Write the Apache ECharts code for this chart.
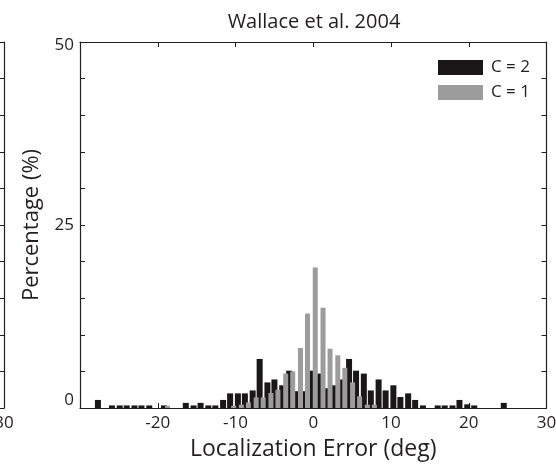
<!DOCTYPE html>
<html><head><meta charset="utf-8">
<script src="https://cdn.jsdelivr.net/npm/echarts@6/dist/echarts.min.js"></script>
<style>html,body{margin:0;padding:0;background:#fff}#c{width:556px;height:466px}</style>
</head><body><div id="c"></div>
<script>
// Bin centres (deg)
const binCentres = [-27.5,-26.6,-25.7,-24.7,-23.8,-22.8,-21.9,-20.9,-20.0,-19.0,-18.1,-17.1,-16.2,-15.2,-14.3,-13.3,-12.4,-11.4,-10.5,-9.5,-8.6,-7.6,-6.7,-5.7,-4.8,-3.8,-2.9,-1.9,-1.0,0,1.0,1.9,2.9,3.8,4.8,5.7,6.7,7.6,8.6,9.5,10.5,11.4,12.4,13.3,14.3,15.2,16.2,17.1,18.1,19.0,20.0,20.9,21.9,22.8,23.8,24.7];
// C = 2 (black), percentage
const c2Values = [1.1,0,0.35,0.35,0.35,0.35,0.35,0.35,0,0.35,0,0,0.7,0.35,0.7,0.35,0.35,1.1,2.0,2.0,2.0,2.4,6.7,3.5,3.9,3.1,5.1,2.3,2.3,5.1,4.7,2.7,3.1,3.9,6.7,5.1,4.7,2.4,3.9,2.4,3.1,1.5,2.0,1.1,0.35,0,0.35,0.35,0.35,1.1,0.5,0.35,0,0,0,0.7];
// C = 1 (grey), percentage
const c1Values = [0,0,0,0,0,0,0,0,0,0.3,0,0,0,0,0,0,0,0,0.3,0.45,0.75,1.45,1.45,2.05,2.5,4.7,5.0,8.2,12.9,19.2,13.7,8.1,7.2,5.5,3.5,1.6,0.45,0.45,0,0,0,0,0,0,0,0,0,0,0,0,0,0,0,0,0,0];
const seriesNames = ['C = 2', 'C = 1'];
const yLabelValues = [0, 25, 50];
const hiddenXLabels = [-30];
const chartTitle = 'Wallace et al. 2004';
const xName = 'Localization Error (deg)';
const yName = 'Percentage (%)';

const ink = '#231f20';
const font = 'Open Sans';
const pair = (xs, ys) => xs.map((x, i) => [x, ys[i]]);

const tick = {show: true, inside: true, length: 5, lineStyle: {color: ink, width: 1}};
const line = {show: true, onZero: false, lineStyle: {color: ink, width: 1.2}};
const lbl = {color: ink, fontSize: 17, fontFamily: font};

const chart = echarts.init(document.getElementById('c'), null, {renderer: 'canvas'});
chart.setOption({
  animation: false,
  backgroundColor: '#fff',
  title: {text: chartTitle, left: 309, top: 7, textAlign: 'center',
    textStyle: {color: ink, fontSize: 20, fontWeight: 'normal', fontFamily: font}},
  legend: {data: seriesNames, orient: 'vertical', left: 433, top: 54, itemWidth: 45, itemHeight: 15,
    itemGap: 8, icon: 'rect', textStyle: {color: ink, fontSize: 17, fontFamily: font, padding: [0,0,0,3]}},
  grid: [
    {left: 80, right: 9.5, top: 42, bottom: 58, containLabel: false, outerBoundsMode: 'none'},
    {left: -461, width: 465, top: 42, bottom: 58, containLabel: false, outerBoundsMode: 'none'}
  ],
  xAxis: [
    {type: 'value', gridIndex: 0, position: 'bottom', min: -30, max: 30, interval: 10,
     axisLine: line, axisTick: tick, splitLine: {show: false},
     axisLabel: Object.assign({margin: 7, formatter: v => hiddenXLabels.includes(v) ? '' : String(v)}, lbl),
     name: xName, nameLocation: 'middle', nameGap: 30,
     nameTextStyle: {color: ink, fontSize: 23, fontFamily: font}},
    {type: 'value', gridIndex: 0, position: 'top', min: -30, max: 30, interval: 10,
     axisLine: line, axisTick: tick, splitLine: {show: false}, axisLabel: {show: false}},
    {type: 'value', gridIndex: 1, position: 'bottom', min: -30, max: 30, interval: 10,
     axisLine: line, axisTick: tick, splitLine: {show: false},
     axisLabel: Object.assign({margin: 7}, lbl)},
    {type: 'value', gridIndex: 1, position: 'top', min: -30, max: 30, interval: 10,
     axisLine: line, axisTick: tick, splitLine: {show: false}, axisLabel: {show: false}}
  ],
  yAxis: [
    {type: 'value', gridIndex: 0, position: 'left', min: 0, max: 50, interval: 5,
     axisLine: line, axisTick: tick, splitLine: {show: false},
     axisLabel: Object.assign({margin: 6,
       formatter: v => !yLabelValues.includes(v) ? '' : (v === 0 ? '{lo|0}' : v === 50 ? '{hi|50}' : String(v)),
       rich: {lo: {fontSize: 17, color: ink, fontFamily: font, padding: [0, 0, 15, 0]},
              hi: {fontSize: 17, color: ink, fontFamily: font, padding: [6, 0, 0, 0]}}}, lbl),
     name: yName, nameLocation: 'middle', nameGap: 37,
     nameTextStyle: {color: ink, fontSize: 22, fontFamily: font}},
    {type: 'value', gridIndex: 0, position: 'right', min: 0, max: 50, interval: 5,
     axisLine: line, axisTick: tick, splitLine: {show: false}, axisLabel: {show: false}},
    {type: 'value', gridIndex: 1, position: 'left', min: 0, max: 50, interval: 5,
     axisLine: line, axisTick: tick, splitLine: {show: false}, axisLabel: {show: false}},
    {type: 'value', gridIndex: 1, position: 'right', min: 0, max: 50, interval: 5,
     axisLine: line, axisTick: tick, splitLine: {show: false}, axisLabel: {show: false}}
  ],
  series: [
    {name: seriesNames[0], type: 'bar', xAxisIndex: 0, yAxisIndex: 0, data: pair(binCentres, c2Values),
     barWidth: 6, barGap: '-33%', itemStyle: {color: '#1a1718'}},
    {name: seriesNames[1], type: 'bar', xAxisIndex: 0, yAxisIndex: 0, data: pair(binCentres, c1Values),
     barWidth: 5, itemStyle: {color: '#9c9c9c'}}
  ]
});
</script></body></html>
